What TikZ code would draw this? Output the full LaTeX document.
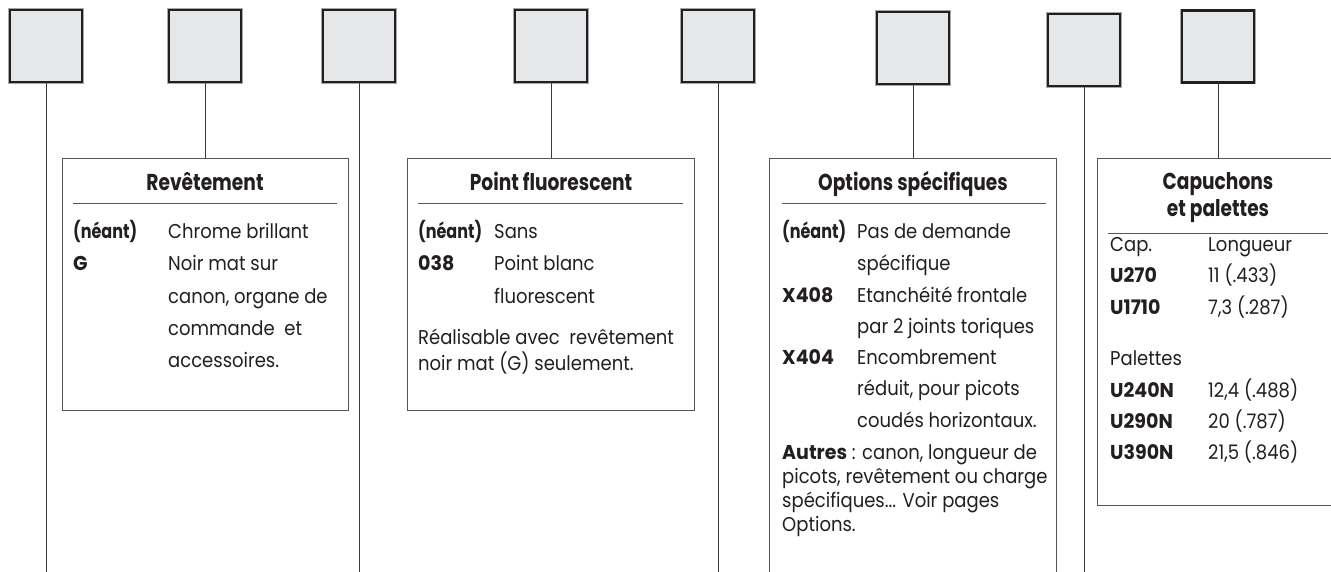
\documentclass[tikz,border=0pt]{standalone}
\usepackage{fontspec}
\setmainfont[FakeStretch=0.9]{Poppins}
\newfontfamily\lblfont[FakeStretch=0.95]{Poppins}
\newfontfamily\neantfont[FakeStretch=0.8]{Poppins}
\newfontfamily\headfont[FakeStretch=0.81]{Poppins}
\definecolor{sqfill}{HTML}{E6E7E8}
\definecolor{sqborder}{HTML}{231F20}
\definecolor{sqhalo}{HTML}{A7A9AC}
\definecolor{linecol}{HTML}{3A3A3A}
\definecolor{boxcol}{HTML}{555555}
\definecolor{textcol}{HTML}{231F20}
\tikzset{
  sq/.style={preaction={draw=sqhalo, line width=3.2pt}, draw=sqborder, fill=sqfill, line width=2.1pt, minimum width=72pt, minimum height=72pt, inner sep=0pt, outer sep=0pt},
  conn/.style={draw=linecol, line width=0.9pt},
  infobox/.style={draw=boxcol, line width=0.9pt, inner sep=0pt, outer sep=0pt, anchor=north},
  openbox/.style={inner sep=0pt, outer sep=0pt, anchor=north},
  rulel/.style={draw=boxcol, line width=0.9pt},
  txt/.style={anchor=base west, inner sep=0pt, text=textcol, font=\fontsize{20}{24}\selectfont},
  lbl/.style={anchor=base west, inner sep=0pt, text=textcol, font=\lblfont\bfseries\fontsize{20}{24}\selectfont},
  nlbl/.style={anchor=base west, inner sep=0pt, text=textcol, font=\neantfont\bfseries\fontsize{20}{24}\selectfont},
  head/.style={anchor=base, inner sep=0pt, text=textcol, font=\headfont\bfseries\fontsize{23}{28}\selectfont},
}
\begin{document}
\begin{tikzpicture}[x=1pt, y=-1pt]
\useasboundingbox (0,0) rectangle (1331,572);
% squares
\node[sq] (s1) at (46,46) {};
\node[sq] (s2) at (205,46) {};
\node[sq] (s3) at (359,46) {};
\node[sq] (s4) at (551,46) {};
\node[sq] (s5) at (718,46) {};
\node[sq] (s6) at (913,48) {};
\node[sq] (s7) at (1084,50) {};
\node[sq] (s8) at (1218,46.5) {};
% boxes
\node[infobox, minimum width=286pt, minimum height=252pt] (b1) at (205,158) {};
\node[infobox, minimum width=287pt, minimum height=252pt] (b2) at (551,158) {};
\node[openbox, minimum width=287pt, minimum height=414pt] (b3) at (913,158) {};
\draw[rulel] (b3.south west) -- (b3.north west) -- (b3.north east) -- (b3.south east);
\node[infobox, minimum width=242pt, minimum height=347pt] (b4) at (1218,158) {};
% free ends
\coordinate (e1) at (46,572);
\coordinate (e3) at (359,572);
\coordinate (e5) at (718,572);
\coordinate (e7) at (1084,572);
% connectors
\draw[conn] (s1.south) -- (e1);
\draw[conn] (s2.south) -- (b1.north);
\draw[conn] (s3.south) -- (e3);
\draw[conn] (s4.south) -- (b2.north);
\draw[conn] (s5.south) -- (e5);
\draw[conn] (s6.south) -- (b3.north);
\draw[conn] (s7.south) -- (e7);
\draw[conn] (s8.south) -- (b4.north);
% Box 1
\node[head] (h1) at (205,191) {Revêtement};
\draw[rulel] (73,203) -- (337,203);
\node[nlbl] (l11) at (73,239) {(néant)};
\node[lbl] (l12) at (73,271) {G};
\node[txt] (d11) at (168,239) {Chrome brillant};
\node[txt] (d12) at (168,271) {Noir mat sur};
\node[txt] (d13) at (168,303) {canon, organe de};
\node[txt] (d14) at (168,335) {commande~ et};
\node[txt] (d15) at (168,367) {accessoires.};
% Box 2
\node[head] (h2) at (551,191) {Point fluorescent};
\draw[rulel] (418,203) -- (683,203);
\node[nlbl] (l21) at (418,239) {(néant)};
\node[lbl] (l22) at (418,271) {038};
\node[txt] (d21) at (494,239) {Sans};
\node[txt] (d22) at (494,271) {Point blanc};
\node[txt] (d23) at (494,303) {fluorescent};
\node[txt] (d24) at (418,344) {Réalisable avec~ revêtement};
\node[txt] (d25) at (418,370) {noir mat (G) seulement.};
% Box 3
\node[head] (h3) at (913,191) {Options spécifiques};
\draw[rulel] (782,203) -- (1046,203);
\node[nlbl] (l31) at (782,239) {(néant)};
\node[lbl] (l32) at (782,302) {X408};
\node[lbl] (l33) at (782,364) {X404};
\node[txt] (d31) at (857,239) {Pas de demande};
\node[txt] (d32) at (857,270) {spécifique};
\node[txt] (d33) at (857,302) {Etanchéité frontale};
\node[txt] (d34) at (857,333) {par 2 joints toriques};
\node[txt] (d35) at (857,364) {Encombrement};
\node[txt] (d36) at (857,395) {réduit, pour picots};
\node[txt] (d37) at (857,427) {coudés horizontaux.};
\node[txt] (d38) at (782,459) {{\lblfont\bfseries Autres} : canon, longueur de};
\node[txt] (d39) at (782,483) {picots, revêtement ou charge};
\node[txt] (d3a) at (782,507) {spécifiques... Voir pages};
\node[txt] (d3b) at (782,531) {Options.};
% Box 4
\node[head] (h4a) at (1218,190) {Capuchons};
\node[head] (h4b) at (1218,217) {et palettes};
\draw[rulel] (1108,233) -- (1328,233);
\node[txt] (c0a) at (1110,252) {Cap.};
\node[txt] (c0b) at (1208,252) {Longueur};
\node[lbl] (c1a) at (1110,283) {U270};
\node[txt] (c1b) at (1208,283) {11 (.433)};
\node[lbl] (c2a) at (1110,314) {U1710};
\node[txt] (c2b) at (1208,314) {7,3 (.287)};
\node[txt] (c3a) at (1110,365) {Palettes};
\node[lbl] (c4a) at (1110,397) {U240N};
\node[txt] (c4b) at (1208,397) {12,4 (.488)};
\node[lbl] (c5a) at (1110,428) {U290N};
\node[txt] (c5b) at (1208,428) {20 (.787)};
\node[lbl] (c6a) at (1110,459) {U390N};
\node[txt] (c6b) at (1208,459) {21,5 (.846)};
\end{tikzpicture}
\end{document}
